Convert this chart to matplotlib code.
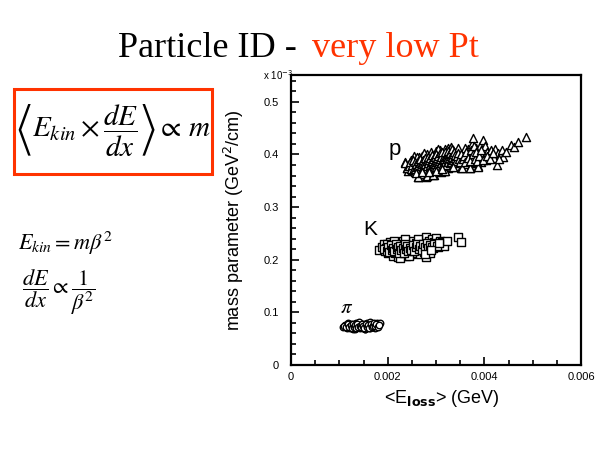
import matplotlib
matplotlib.use("Agg")
import matplotlib.pyplot as plt
from matplotlib.patches import Rectangle
from matplotlib.ticker import MultipleLocator

plt.rcParams['mathtext.fontset'] = 'stix'

# ---------------- data (x in units of 1e-3 GeV, y in units of 1e-3 GeV^2/cm) ----------------
pi_x = [1.08,1.12,1.15,1.18,1.20,1.22,1.25,1.27,1.30,1.32,1.34,1.36,1.38,1.40,
        1.42,1.44,1.46,1.48,1.50,1.52,1.54,1.56,1.58,1.60,1.62,1.64,1.66,1.68,
        1.70,1.72,1.75,1.78,1.81,1.84,1.18,1.28,1.41,1.53,1.63,1.74,
        1.10,1.14,1.17,1.21,1.24,1.26,1.29,1.31,1.33,1.35,1.37,1.39,1.43,1.45,
        1.47,1.49,1.51,1.55,1.57,1.59,1.61,1.65,1.67,1.69,1.71,1.73,1.76,1.79,1.82]
pi_y = [0.073,0.076,0.070,0.078,0.074,0.071,0.077,0.073,0.075,0.069,0.079,0.074,
        0.072,0.076,0.070,0.078,0.074,0.071,0.077,0.073,0.069,0.075,0.079,0.072,
        0.076,0.070,0.074,0.078,0.073,0.076,0.075,0.079,0.077,0.080,0.080,0.068,
        0.081,0.068,0.081,0.071,
        0.075,0.072,0.077,0.073,0.076,0.070,0.078,0.072,0.076,0.071,0.077,0.073,
        0.075,0.072,0.077,0.074,0.070,0.078,0.073,0.076,0.071,0.077,0.073,0.075,
        0.079,0.074,0.077,0.073,0.076]

k_x = [1.82,1.88,1.92,1.95,1.97,2.00,2.02,2.04,2.05,2.07,2.09,2.10,2.12,2.13,2.15,
       2.16,2.18,2.19,2.20,2.22,2.23,2.24,2.25,2.27,2.28,2.29,2.30,2.32,2.33,2.34,
       2.35,2.37,2.38,2.39,2.40,2.42,2.43,2.44,2.46,2.47,2.48,2.50,2.51,2.53,2.54,
       2.55,2.57,2.58,2.60,2.61,2.63,2.64,2.66,2.67,2.69,2.70,2.72,2.73,2.75,2.76,
       2.78,2.79,2.80,2.82,2.83,2.85,2.86,2.88,2.90,2.92,2.94,2.96,2.98,3.00,3.02,
       3.05,3.08,3.10,3.13,3.16,3.22,3.45,3.52,2.26,2.45,2.62,2.05,1.98,2.36,2.14,
       1.93,1.99,2.01,2.03,2.06,2.08,2.11,2.14,2.17,2.19,2.21,2.23,2.26,2.28,2.31,
       2.33,2.36,2.38,2.41,2.43,2.46,2.49,2.52,2.55,2.58,2.61,2.64,2.67,2.71,2.74,
       2.77,2.81,2.84,2.87,2.91,2.95,3.03,3.07,2.78,2.90]
k_y = [0.218,0.224,0.229,0.216,0.222,0.212,0.227,0.219,0.233,0.215,0.224,0.208,
       0.230,0.219,0.226,0.213,0.222,0.234,0.217,0.205,0.228,0.221,0.214,0.231,
       0.224,0.210,0.219,0.236,0.226,0.215,0.222,0.207,0.230,0.218,0.225,0.213,
       0.233,0.221,0.227,0.216,0.210,0.229,0.222,0.236,0.218,0.225,0.213,0.231,
       0.220,0.227,0.216,0.234,0.223,0.211,0.229,0.219,0.238,0.226,0.214,0.232,
       0.221,0.205,0.244,0.228,0.217,0.235,0.224,0.213,0.230,0.240,0.222,0.233,
       0.227,0.242,0.231,0.225,0.236,0.229,0.234,0.227,0.235,0.243,0.234,0.203,
       0.207,0.239,0.221,0.230,0.240,0.236,
       0.221,0.217,0.225,0.214,0.228,0.219,0.223,0.216,0.229,0.220,0.225,0.213,
       0.227,0.218,0.223,0.212,0.229,0.221,0.226,0.216,0.222,0.219,0.228,0.217,
       0.224,0.230,0.221,0.226,0.218,0.229,0.224,0.232,0.222,0.228,0.225,0.230,
       0.226,0.231,0.211,0.218]

p_x = [2.36,2.40,2.42,2.45,2.47,2.49,2.50,2.52,2.53,2.55,2.56,2.57,2.58,2.60,2.61,
       2.62,2.63,2.64,2.65,2.66,2.67,2.68,2.69,2.70,2.71,2.72,2.73,2.74,2.75,2.76,
       2.77,2.78,2.79,2.80,2.80,2.81,2.82,2.83,2.84,2.85,2.86,2.87,2.88,2.89,2.90,
       2.91,2.92,2.93,2.94,2.95,2.96,2.97,2.98,2.99,3.00,3.01,3.02,3.03,3.04,3.05,
       3.06,3.07,3.08,3.09,3.10,3.11,3.12,3.13,3.14,3.15,3.16,3.17,3.18,3.19,3.20,
       3.21,3.22,3.23,3.24,3.25,3.26,3.27,3.28,3.29,3.30,3.31,3.32,3.33,3.34,3.35,
       3.36,3.37,3.38,3.39,3.40,3.42,3.44,3.46,3.48,3.50,3.52,3.54,3.56,3.58,3.60,
       3.62,3.64,3.66,3.68,3.70,3.72,3.74,3.75,3.76,3.77,3.78,3.79,3.80,3.82,3.84,
       3.86,3.88,3.90,3.92,3.94,3.96,3.97,3.99,4.01,4.03,4.06,4.10,4.14,4.20,4.22,
       4.26,4.28,4.32,4.36,4.38,4.45,4.55,4.62,4.70,4.86,2.63,2.81,2.94,3.19,3.53,
       3.70,3.87,2.40,2.36,2.55,2.75,2.60,3.05,3.30,3.45,3.60,
       2.44,2.46,2.48,2.51,2.52,2.54,2.56,2.57,2.59,2.60,2.62,2.63,2.64,2.66,2.67,
       2.68,2.70,2.71,2.72,2.73,2.75,2.76,2.77,2.78,2.79,2.81,2.82,2.83,2.84,2.85,
       2.86,2.87,2.88,2.89,2.90,2.91,2.92,2.93,2.94,2.95,2.96,2.97,2.98,2.99,3.00,
       3.01,3.02,3.03,3.04,3.05,3.06,3.07,3.08,3.09,3.10,3.11,3.12,3.13,3.14,3.15,
       3.16,3.17,3.18,3.19,3.20,3.21,3.22,3.23,3.24,3.25,3.26,3.27,3.28,3.29,3.30,
       3.31,3.32,3.33,3.34,3.35,3.36,3.37,3.38,3.39,3.40,3.41,3.43,3.45,3.47,3.49,
       3.51,3.55,3.57,3.59,3.63,3.67,3.71,3.73,3.76,3.79,3.81,3.83,3.85,3.89,3.93,
       3.98,4.05,4.12,4.18,4.30,2.58,2.70,2.85,3.00,3.12,3.35]
p_y = [0.386,0.374,0.368,0.381,0.377,0.389,0.371,0.384,0.378,0.392,0.366,0.383,
       0.375,0.388,0.380,0.357,0.371,0.395,0.384,0.377,0.389,0.369,0.381,0.398,
       0.374,0.386,0.363,0.392,0.379,0.384,0.371,0.396,0.387,0.357,0.376,0.401,
       0.382,0.369,0.390,0.378,0.395,0.385,0.373,0.404,0.388,0.380,0.365,0.393,
       0.383,0.361,0.398,0.376,0.389,0.407,0.384,0.371,0.395,0.380,0.402,0.388,
       0.375,0.392,0.383,0.409,0.367,0.397,0.386,0.378,0.401,0.391,0.368,0.384,
       0.411,0.396,0.379,0.389,0.405,0.385,0.374,0.413,0.393,0.382,0.400,0.387,
       0.408,0.377,0.395,0.389,0.402,0.384,0.409,0.391,0.380,0.398,0.386,0.404,
       0.393,0.378,0.399,0.388,0.374,0.396,0.386,0.403,0.392,0.381,0.398,0.410,
       0.389,0.375,0.401,0.420,0.393,0.383,0.431,0.406,0.395,0.385,0.413,0.398,
       0.378,0.404,0.391,0.417,0.386,0.402,0.427,0.395,0.417,0.390,0.405,0.399,
       0.408,0.393,0.410,0.380,0.402,0.399,0.408,0.396,0.405,0.418,0.414,0.424,
       0.433,0.358,0.359,0.361,0.368,0.374,0.375,0.377,0.375,0.384,0.398,0.402,
       0.395,0.411,0.415,0.412,0.412,
       0.379,0.386,0.373,0.380,0.390,0.375,0.385,0.372,0.381,0.376,0.387,0.379,
       0.370,0.383,0.392,0.378,0.386,0.381,0.372,0.390,0.384,0.376,0.393,0.382,
       0.371,0.388,0.378,0.396,0.383,0.372,0.389,0.380,0.394,0.385,0.376,0.399,
       0.387,0.379,0.392,0.384,0.374,0.396,0.381,0.390,0.377,0.400,0.386,0.393,
       0.381,0.397,0.388,0.379,0.402,0.391,0.384,0.396,0.378,0.405,0.389,0.382,
       0.398,0.392,0.386,0.404,0.395,0.380,0.398,0.391,0.407,0.386,0.400,0.394,
       0.383,0.403,0.392,0.398,0.386,0.410,0.395,0.390,0.401,0.384,0.405,0.393,
       0.399,0.388,0.397,0.403,0.392,0.385,0.400,0.391,0.397,0.385,0.404,0.394,
       0.388,0.408,0.400,0.416,0.392,0.405,0.388,0.398,0.409,0.389,0.398,0.392,
       0.403,0.392,0.364,0.367,0.366,0.368,0.372,0.377]

x_ticks = [0, 0.002, 0.004, 0.006]
x_tick_labels = ['0', '0.002', '0.004', '0.006']
y_ticks = [0, 0.1, 0.2, 0.3, 0.4, 0.5]
y_tick_labels = ['0', '0.1', '0.2', '0.3', '0.4', '0.5']

# ---------------- figure ----------------
W, H = 600, 450
fig = plt.figure(figsize=(6, 4.5), dpi=100)
fig.patch.set_facecolor('white')

def P(x, y):
    return (x / W, 1 - y / H)

ax = fig.add_axes([291 / W, 1 - 365 / H, 290 / W, 290 / H])

scale = 1e-3
ax.scatter([v * scale for v in pi_x], pi_y, marker='o', s=22, facecolors='white',
           edgecolors='black', linewidths=1.0)
ax.scatter([v * scale for v in k_x], k_y, marker='s', s=32, facecolors='white',
           edgecolors='black', linewidths=1.0)
ax.scatter([v * scale for v in p_x], p_y, marker='^', s=34, facecolors='white',
           edgecolors='black', linewidths=1.0)

ax.set_xlim(0, 0.006)
ax.set_ylim(0, 0.551)
ax.set_xticks(x_ticks)
ax.set_xticklabels(x_tick_labels, family='Liberation Sans', fontsize=8)
ax.set_yticks(y_ticks)
ax.set_yticklabels(y_tick_labels, family='Liberation Sans', fontsize=8)
ax.xaxis.set_minor_locator(MultipleLocator(0.0005))
ax.yaxis.set_minor_locator(MultipleLocator(0.02))
ax.tick_params(which='both', direction='in', top=False, right=False, width=1.2)
ax.tick_params(which='major', length=6)
ax.tick_params(which='minor', length=3.5)
ax.tick_params(axis='x', pad=5)
ax.tick_params(axis='y', pad=9)
for s in ax.spines.values():
    s.set_linewidth(1.6)

ax.set_ylabel(r'mass parameter (GeV$^{2}$/cm)', fontsize=13, family='Liberation Sans',
              math_fontfamily='dejavusans')
ax.yaxis.set_label_coords(-0.155, 0.5)
ax.set_xlabel(r'<E$_{\mathbf{loss}}$> (GeV)', fontsize=13, family='Liberation Sans',
              math_fontfamily='dejavusans')
ax.xaxis.set_label_coords(0.52, -0.08)

ax.text(0.00201, 0.399, 'p', fontsize=16, family='Liberation Sans')
ax.text(0.00149, 0.247, 'K', fontsize=15, family='Liberation Sans')
ax.text(0.00102, 0.099, r'$\pi$', fontsize=15)

fig.text(*P(263, 80), r'x 10$^{-3}$', fontsize=7, family='Liberation Sans',
         math_fontfamily='dejavusans', va='baseline')

# title
fig.text(*P(118, 57), 'Particle ID -', fontsize=26, family='Liberation Serif',
         va='baseline', color='black')
fig.text(*P(312, 57), 'very low Pt', fontsize=26, family='Liberation Serif',
         va='baseline', color='#FF3300')

# formula box
fig.patches.append(Rectangle(P(14, 174), 198 / W, 85 / H, transform=fig.transFigure,
                             fill=False, edgecolor='#FF3300', linewidth=2.2))
fig.text(*P(113, 131), r'$\left\langle E_{kin}\times\dfrac{dE}{dx}\right\rangle \propto\, m$',
         fontsize=21, ha='center', va='center')

fig.text(*P(18, 250), r'$E_{kin} = m\beta^{2}$', fontsize=16, va='baseline')
fig.text(*P(22, 292), r'$\dfrac{dE}{dx} \propto \dfrac{1}{\beta^{2}}$', fontsize=16,
         va='center')

fig.savefig('out.png', dpi=100, facecolor='white')
